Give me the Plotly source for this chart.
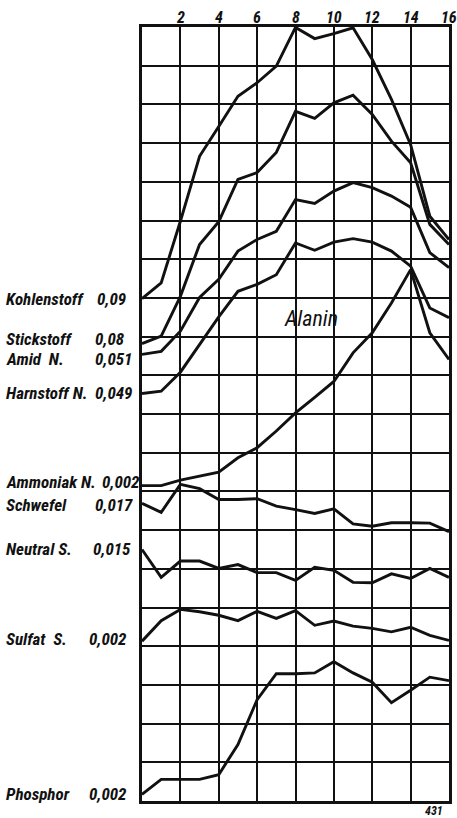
import plotly.graph_objects as go

# Stunden (x) – one point per hour
stunden = list(range(0, 17))

# curve values in grid units (1 unit = one grid row)
kohlenstoff = [12.98, 13.39, 14.98, 16.66, 17.43, 18.21, 18.56, 18.99, 19.99, 19.70, 19.83, 19.98, 19.16, 18.13, 16.96, 15.11, 14.51]
stickstoff = [11.82, 12.01, 13.04, 14.38, 14.97, 16.06, 16.24, 16.76, 17.82, 17.64, 18.04, 18.24, 17.74, 17.05, 16.49, 14.90, 14.38]
amid_n = [11.54, 11.62, 12.14, 13.01, 13.48, 14.21, 14.51, 14.72, 15.54, 15.44, 15.76, 15.98, 15.85, 15.63, 15.34, 14.17, 13.78]
harnstoff_n = [10.53, 10.59, 11.08, 11.78, 12.51, 13.17, 13.35, 13.60, 14.42, 14.23, 14.44, 14.53, 14.44, 14.21, 13.82, 12.74, 12.49]
ammoniak_n = [8.15, 8.15, 8.29, 8.39, 8.50, 8.87, 9.13, 9.56, 10.03, 10.43, 10.84, 11.58, 12.10, 12.87, 13.73, 12.10, 11.41]
schwefel = [7.69, 7.46, 8.18, 8.07, 7.79, 7.79, 7.81, 7.62, 7.53, 7.43, 7.55, 7.16, 7.10, 7.19, 7.19, 7.18, 6.96]
neutral_s = [6.50, 5.78, 6.20, 6.20, 6.01, 6.11, 5.90, 5.90, 5.70, 6.04, 5.96, 5.65, 5.64, 5.87, 5.75, 6.01, 5.78]
sulfat_s = [4.13, 4.66, 4.95, 4.89, 4.80, 4.66, 4.90, 4.72, 4.92, 4.54, 4.65, 4.52, 4.46, 4.37, 4.49, 4.28, 4.15]
phosphor = [0.17, 0.56, 0.56, 0.56, 0.68, 1.46, 2.62, 3.29, 3.29, 3.31, 3.60, 3.31, 3.07, 2.54, 2.86, 3.20, 3.11]

series_names = ["Kohlenstoff", "Stickstoff", "Amid  N.", "Harnstoff N.", "Ammoniak N.",
                "Schwefel", "Neutral S.", "Sulfat  S.", "Phosphor"]
series_values = [kohlenstoff, stickstoff, amid_n, harnstoff_n, ammoniak_n,
                 schwefel, neutral_s, sulfat_s, phosphor]
start_labels = ["0,09", "0,08", "0,051", "0,049", "0,002", "0,017", "0,015", "0,002", "0,002"]

x_tick_vals = [2, 4, 6, 8, 10, 12, 14, 16]
x_tick_text = ["2", "4", "6", "8", "10", "12", "14", "16"]
y_grid_vals = list(range(0, 21))

W, H = 457, 818
ML, MR, MT, MB = 142, 5, 27, 17
plot_w = W - ML - MR
plot_h = H - MT - MB

FONT = "Roboto Condensed, DejaVu Sans Condensed, sans-serif"
INK = "#111111"
PAD = 4  # annotation inner padding (px)

fig = go.Figure()
for name, vals in zip(series_names, series_values):
    fig.add_trace(go.Scatter(x=stunden, y=vals, mode="lines", name=name,
                             line=dict(color=INK, width=2.9),
                             showlegend=False, hoverinfo="skip"))

# layout tweaks for the left-hand labels (pixel offsets)
label_shift = {"Stickstoff": 5, "Amid  N.": -5, "Ammoniak N.": 4, "Schwefel": -2, "Sulfat  S.": 2}
value_left = {"Kohlenstoff": 99, "Ammoniak N.": 104, "Neutral S.": 94, "Sulfat  S.": 90, "Phosphor": 90}

def px_to_paper(px):
    return (px - ML) / plot_w

def py_to_paper(py):
    return ((H - MB) - py) / plot_h

annotations = []
for name, vals, lab in zip(series_names, series_values, start_labels):
    ys = label_shift.get(name, 0)
    annotations.append(dict(x=px_to_paper(7 - PAD), xref="paper", y=vals[0], yref="y",
                            text="<b><i>" + name.replace("  ", "&nbsp;&nbsp;") + "</i></b>", showarrow=False,
                            xanchor="left", yanchor="middle", yshift=ys,
                            font=dict(family=FONT, size=17, color=INK)))
    annotations.append(dict(x=px_to_paper(value_left.get(name, 97) - PAD), xref="paper", y=vals[0], yref="y",
                            text="<b><i>" + lab + "</i></b>", showarrow=False,
                            xanchor="left", yanchor="middle", yshift=ys,
                            font=dict(family=FONT, size=17, color=INK)))

# top tick labels
for tv, tt in zip(x_tick_vals, x_tick_text):
    annotations.append(dict(x=tv, xref="x", y=py_to_paper(18), yref="paper",
                            text="<b><i>" + tt + "</i></b>", showarrow=False,
                            xanchor="center", yanchor="middle",
                            font=dict(family=FONT, size=16, color=INK)))

annotations.append(dict(x=8.83, y=12.48, xref="x", yref="y", text="<i>Alanin</i>",
                        showarrow=False, font=dict(family=FONT, size=22, color=INK)))
annotations.append(dict(x=px_to_paper(437), xref="paper", y=py_to_paper(811), yref="paper",
                        text="<b><i>431</i></b>", showarrow=False, yanchor="middle", xanchor="center",
                        font=dict(family=FONT, size=12, color=INK)))

fig.update_layout(
    width=W, height=H,
    margin=dict(l=ML, r=MR, t=MT, b=MB),
    paper_bgcolor="white", plot_bgcolor="white",
    annotations=annotations,
    xaxis=dict(range=[0, 16], side="top", tickvals=x_tick_vals, showticklabels=False,
               ticks="", ticklen=0, showgrid=True, gridcolor=INK, gridwidth=2,
               showline=True, linecolor=INK, linewidth=2.5, mirror=True,
               zeroline=False, fixedrange=True),
    yaxis=dict(range=[0, 20], tickvals=y_grid_vals, showticklabels=False,
               showgrid=True, gridcolor=INK, gridwidth=2,
               showline=True, linecolor=INK, linewidth=2.5, mirror=True,
               zeroline=False, fixedrange=True),
)

fig.write_html("out.html")
